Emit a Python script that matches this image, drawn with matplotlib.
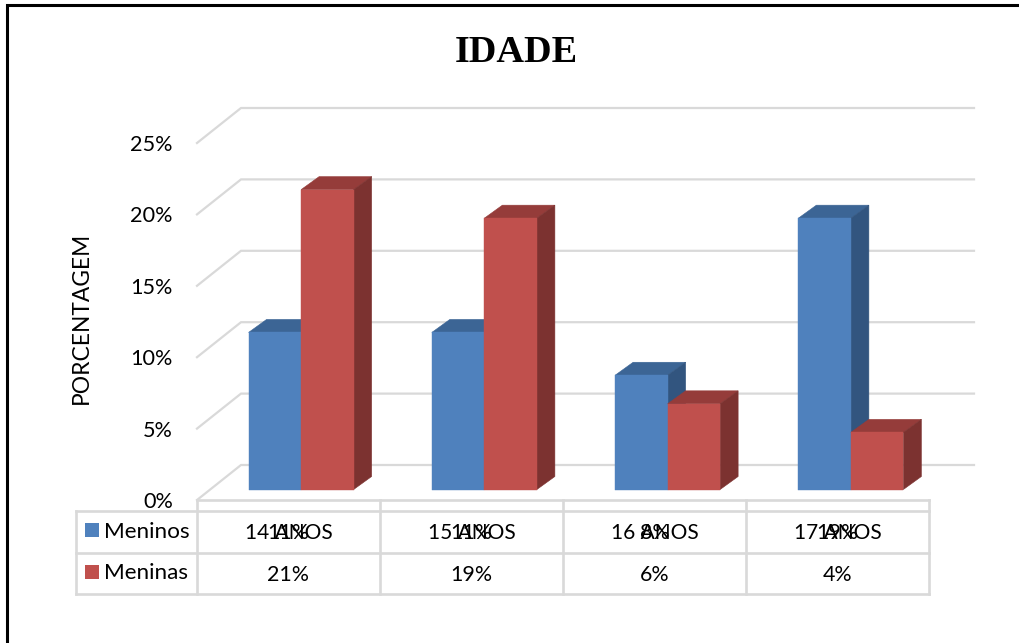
import matplotlib
matplotlib.use("Agg")
import matplotlib.pyplot as plt
from matplotlib.patches import Polygon

categories = ["14 ANOS", "15 ANOS", "16 ANOS", "17 ANOS"]
meninos = [11, 11, 8, 19]
meninas = [21, 19, 6, 4]
y_ticks = [0, 5, 10, 15, 20, 25]

W, H = 1019, 643
BLUE = ("#4F81BD", "#3C6595", "#32557F")
RED = ("#C0504D", "#953C3A", "#7C3230")
GRID = "#D9D9D9"
TEXT_FONT = ["Lato", "DejaVu Sans"]

fig = plt.figure(figsize=(W / 100, H / 100), dpi=100, facecolor="white")

# Overlay in pixel units for the frame, title and data table
page = fig.add_axes([0, 0, 1, 1], zorder=3)
page.set_xlim(0, W)
page.set_ylim(H, 0)
page.axis("off")
page.patch.set_alpha(0)

# Plot area: the front plane of the 3D box
left, right, top, bottom = 197, 930, 143, 500
ax = fig.add_axes([left / W, 1 - bottom / H, (right - left) / W, (bottom - top) / H], zorder=1)
ax.set_xlim(0, 4)
ax.set_ylim(0, 25)
ax.axis("off")

px_x = 4 / (right - left)
px_y = 25 / (bottom - top)

# Floor depth and the depth of a single bar, in data units
floor_dx, floor_dy = 44 * px_x, 35 * px_y
bar_dx, bar_dy = 18 * px_x, 13 * px_y
shift_x, shift_y = 12.5 * px_x, 10.5 * px_y
bar_w = 52.5 * px_x

for t in y_ticks:
    ax.plot([0, floor_dx, 4 + floor_dx], [t, t + floor_dy, t + floor_dy],
            color=GRID, lw=1.6, clip_on=False, zorder=1, solid_joinstyle="miter")


def draw_bar(x, value, shades, z):
    front, topc, side = shades
    y0 = shift_y
    y1 = value + shift_y
    ax.add_patch(Polygon([(x, y1), (x + bar_dx, y1 + bar_dy),
                          (x + bar_w + bar_dx, y1 + bar_dy), (x + bar_w, y1)],
                         facecolor=topc, edgecolor=topc, lw=0.4, clip_on=False, zorder=z))
    ax.add_patch(Polygon([(x + bar_w, y0), (x + bar_w + bar_dx, y0 + bar_dy),
                          (x + bar_w + bar_dx, y1 + bar_dy), (x + bar_w, y1)],
                         facecolor=side, edgecolor=side, lw=0.4, clip_on=False, zorder=z))
    ax.bar(x, value, bar_w, bottom=y0, align="edge", color=front, edgecolor=front, lw=0.3,
           clip_on=False, zorder=z)


for i in range(len(categories)):
    start = i + shift_x + 0.5 - bar_w
    draw_bar(start, meninos[i], BLUE, 2 + i * 2)
    draw_bar(start + bar_w, meninas[i], RED, 3 + i * 2)

for t in y_ticks:
    page.text(173, bottom - t / px_y + 2, f"{t}%", ha="right", va="center",
              fontsize=15.6, family=TEXT_FONT, color="black")

page.text(516, 52, "IDADE", ha="center", va="center", fontsize=27.5, fontweight="bold",
          family="Liberation Serif", color="black")
page.text(81, 318, "PORCENTAGEM", rotation=90, ha="center", va="center", fontsize=16.4,
          family=TEXT_FONT, color="black")

# Data table under the plot
cols = [197, 380, 563, 746, 929]
page.plot([197, 929], [500, 500], color=GRID, lw=1.9)
for x in cols:
    page.plot([x, x], [500, 594], color=GRID, lw=1.9)
page.plot([76, 76], [511, 594], color=GRID, lw=1.9)
for y in [511, 552.5, 594]:
    page.plot([76, 929], [y, y], color=GRID, lw=1.9)

for key_y, name, color, text_y in [(530, "Meninos", BLUE[0], 532), (572, "Meninas", RED[0], 573)]:
    page.add_patch(plt.Rectangle((85, key_y - 7), 14, 14, facecolor=color, edgecolor="none"))
    page.text(104, text_y, name, ha="left", va="center", fontsize=16.2, family=TEXT_FONT, color="black")

for i, cat in enumerate(categories):
    cx = (cols[i] + cols[i + 1]) / 2
    page.text(cx, 533, cat, ha="center", va="center", fontsize=15, family=TEXT_FONT, color="black")
    page.text(cx, 533, f"{meninos[i]}%", ha="center", va="center", fontsize=15.4, family=TEXT_FONT, color="black")
    page.text(cx, 575, f"{meninas[i]}%", ha="center", va="center", fontsize=15.4, family=TEXT_FONT, color="black")

# Outer frame, open towards the page edges
page.plot([7, 7, W], [H, 5, 5], color="black", lw=2.2, solid_joinstyle="miter")

fig.savefig("out.png", dpi=100, facecolor="white")
